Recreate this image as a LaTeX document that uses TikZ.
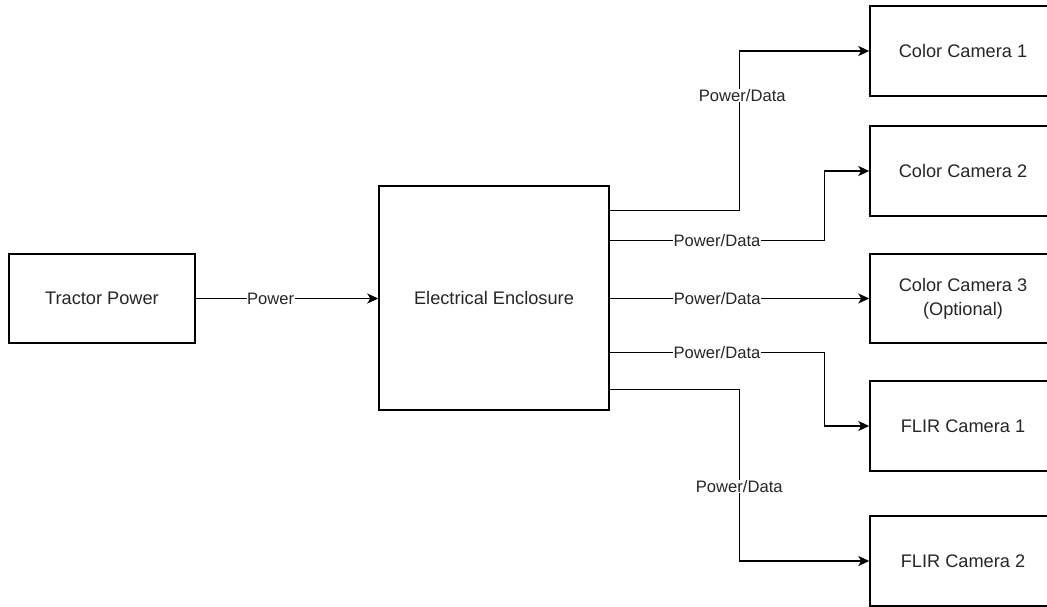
\documentclass[tikz,border=0pt]{standalone}
\usepackage{fontspec}
\setmainfont{Liberation Sans}
\usetikzlibrary{arrows.meta,calc}
\begin{document}
\begin{tikzpicture}[x=1pt,y=-1pt,
  blockbox/.style={draw=black,line width=1.5pt,fill=white,minimum width=186pt,minimum height=90pt,inner sep=0pt,align=center,text=black!85,font=\fontsize{18.2}{24}\selectfont},
  conn/.style={draw=black,line width=1.5pt,-{Stealth[length=11pt,width=10pt,inset=3pt]}},
  lbl/.style={fill=white,inner sep=0.5pt,text=black!85,font=\fontsize{16.6}{19}\selectfont}]
\useasboundingbox (0,0) rectangle (1047,607);
\clip (0,0) rectangle (1047,607);
\fill[white] (0,0) rectangle (1047,607);
\node[blockbox,minimum height=89pt] (tp) at (102,298.5) {Tractor Power};
\node[blockbox,minimum width=230pt,minimum height=224pt] (ee) at (494,298) {Electrical Enclosure};
\node[blockbox] (cc1) at (963,51) {Color Camera 1};
\node[blockbox] (cc2) at (963,171) {Color Camera 2};
\node[blockbox,minimum height=89pt] (cc3) at (963,298.5) {Color Camera 3\\(Optional)};
\node[blockbox] (fl1) at (963,426) {FLIR Camera 1};
\node[blockbox] (fl2) at (963,561) {FLIR Camera 2};
\draw[conn] (tp.east) -- node[lbl,pos=0.41] {Power} (ee.west |- tp.east);
\draw[conn] ($(ee.north east)+(0,25)$) -| node[lbl,pos=0.86,xshift=3pt] {Power/Data} ([xshift=-130pt]cc1.west) -- (cc1.west);
\draw[conn] ($(ee.north east)+(0,55)$) -| node[lbl,pos=0.25] {Power/Data} ([xshift=-45pt]cc2.west) -- (cc2.west);
\draw[conn] (ee.east |- cc3.west) -- node[lbl,pos=0.414] {Power/Data} (cc3.west);
\draw[conn] ($(ee.north east)+(0,167)$) -| node[lbl,pos=0.25] {Power/Data} ([xshift=-45pt]fl1.west) -- (fl1.west);
\draw[conn] ($(ee.north east)+(0,204)$) -| node[lbl,pos=0.784] {Power/Data} ([xshift=-130pt]fl2.west) -- (fl2.west);
\end{tikzpicture}
\end{document}
